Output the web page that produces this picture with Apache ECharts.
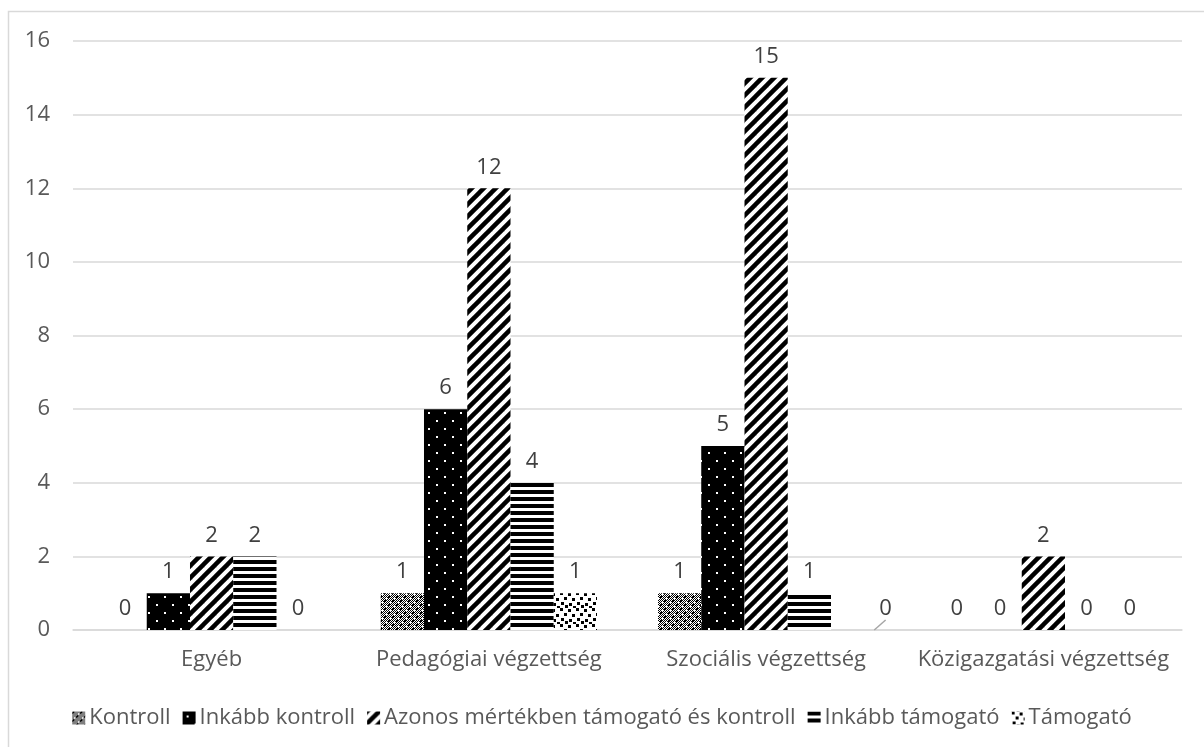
<!DOCTYPE html>
<html><head><meta charset="utf-8">
<script src="https://cdn.jsdelivr.net/npm/echarts@6/dist/echarts.min.js"></script>
<style>html,body{margin:0;padding:0;background:#fff}#c{width:1204px;height:747px}</style>
</head><body><div id="c"></div>
<script>
const categories = ['Egyéb', 'Pedagógiai végzettség', 'Szociális végzettség', 'Közigazgatási végzettség'];
const seriesNames = ['Kontroll', 'Inkább kontroll', 'Azonos mértékben támogató és kontroll', 'Inkább támogató', 'Támogató'];
const kontroll = [0, 1, 1, 0];
const inkabbKontroll = [1, 6, 5, 0];
const azonos = [2, 12, 15, 2];
const inkabbTamogato = [2, 4, 1, 0];
const tamogato = [0, 1, 0, 0];
const yTicks = [0, 2, 4, 6, 8, 10, 12, 14, 16];

function tile(w, h, draw) {
  const c = document.createElement('canvas');
  c.width = w; c.height = h;
  const g = c.getContext('2d');
  g.fillStyle = '#fff'; g.fillRect(0, 0, w, h);
  g.fillStyle = '#000'; g.strokeStyle = '#000';
  draw(g);
  return { image: c, repeat: 'repeat' };
}
const patKontroll = tile(8, 8, g => {
  for (let y = 0; y < 8; y++) for (let x = 0; x < 8; x++) if ((x + y) % 2 === 0) g.fillRect(x, y, 1, 1);
  g.fillStyle = '#000';
  g.fillRect(0, 0, 2, 2); g.fillRect(4, 4, 2, 2);
  g.fillStyle = '#fff';
  g.fillRect(2, 6, 2, 1); g.fillRect(6, 2, 2, 1);
});
const patInkabbKontroll = tile(16, 16, g => {
  g.fillRect(0, 0, 16, 16);
  g.fillStyle = '#fff';
  g.fillRect(4, 4, 2, 2); g.fillRect(12, 12, 2, 2);
});
const patAzonos = tile(12, 12, g => {
  g.lineWidth = 4.5;
  for (let k = -1; k <= 1; k++) {
    g.beginPath(); g.moveTo(-2 + k * 12, 14); g.lineTo(14 + k * 12, -2); g.stroke();
  }
});
const patInkabbTam = tile(4, 7, g => { g.fillRect(0, 0, 4, 4); });
const patTamogato = tile(16, 16, g => {
  const sq = [[0,0],[8,1],[4,5],[12,6],[1,10],[9,11],[13,14],[5,13]];
  sq.forEach(p => g.fillRect(p[0], p[1], 3, 3));
});
const patterns = [patKontroll, patInkabbKontroll, patAzonos, patInkabbTam, patTamogato];
const values = [kontroll, inkabbKontroll, azonos, inkabbTamogato, tamogato];

const font = 'Open Sans';
const fs = 22;
const chart = echarts.init(document.getElementById('c'), null, { renderer: 'canvas' });
chart.setOption({
  animation: false,
  backgroundColor: '#fff',
  graphic: [{ type: 'rect', shape: { x: 8.5, y: 11.5, width: 1300, height: 800 }, style: { fill: 'none', stroke: '#d9d9d9', lineWidth: 1.5 }, silent: true, z: -1 }],
  grid: { left: 73, right: 22, top: 41, bottom: 117 },
  legend: {
    bottom: 13, left: 'center', itemWidth: 13, itemHeight: 13, itemGap: 12,
    icon: 'rect',
    textStyle: { fontFamily: font, fontSize: fs, color: '#595959', padding: [0, 0, 0, -1] },
    data: seriesNames
  },
  xAxis: {
    type: 'category', data: categories,
    axisLine: { lineStyle: { color: '#d9d9d9', width: 1.5 } },
    axisTick: { show: false },
    axisLabel: { interval: 0, fontFamily: font, fontSize: fs, color: '#595959', margin: 19 }
  },
  yAxis: {
    type: 'value', min: 0, max: 16, interval: 2,
    axisLine: { show: false }, axisTick: { show: false },
    splitLine: { lineStyle: { color: '#d9d9d9', width: 1.5 } },
    axisLabel: { fontFamily: font, fontSize: fs, color: '#595959', margin: 23,
      formatter: v => yTicks.indexOf(v) >= 0 ? String(v) : '' }
  },
  series: seriesNames.map((name, i) => ({
    name, type: 'bar',
    barGap: '0%', barCategoryGap: '22%',
    itemStyle: { color: patterns[i] },
    label: { show: true, position: 'top', distance: 10, fontFamily: font, fontSize: fs, color: '#404040' },
    labelLine: { show: false, lineStyle: { color: '#a6a6a6', width: 1.5 } },
    labelLayout: (i === 4) ? (p => p.dataIndex === 2 ? { dx: 33, dy: 0 } : {}) : undefined,
    data: values[i].map((v, j) => (i === 4 && j === 2) ? { value: v, labelLine: { show: true } } : v)
  }))
});
</script></body></html>
